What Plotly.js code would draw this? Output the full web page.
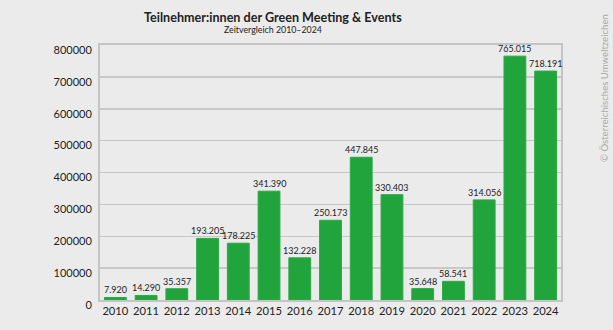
<!DOCTYPE html>
<html><head><meta charset="utf-8">
<script src="https://cdn.plot.ly/plotly-3.0.1.min.js"></script>
<style>body{margin:0;background:#ebebeb}#c{width:613px;height:330px}</style>
</head><body><div id="c"></div>
<script>
const years = ['2010','2011','2012','2013','2014','2015','2016','2017','2018','2019','2020','2021','2022','2023','2024'];
const participants = [7920,14290,35357,193205,178225,341390,132228,250173,447845,330403,35648,58541,314056,765015,718191];
const yTicks = [0,100000,200000,300000,400000,500000,600000,700000,800000];
const titleText = 'Teilnehmer:innen der Green Meeting &amp; Events';
const subtitleText = 'Zeitvergleich 2010–2024';
const creditText = '© Österreichisches Umweltzeichen';

function fmt(v){ return String(v).replace(/\B(?=(\d{3})+(?!\d))/g,'.'); }

const trace = {
  type:'bar', x:years, y:participants,
  marker:{color:'#22a43c', line:{color:'#2aaa44', width:1}},
  width:0.71, hoverinfo:'x+y'
};
const L=100, R=52, T=45, B=30, W=613, H=330;
const plotW=W-L-R, plotH=H-T-B;
const valueLabels = years.map((yr,i)=>({
  text:fmt(participants[i]), x:i, y:participants[i], xref:'x', yref:'y',
  showarrow:false, yanchor:'bottom', xanchor:'center', yshift:0,
  font:{family:'Lato, sans-serif', size:9, color:'#222'}
}));
const layout = {
  width:W, height:H,
  paper_bgcolor:'#ebebeb', plot_bgcolor:'#ebebeb',
  margin:{l:L, r:R, t:T, b:B},
  font:{family:'Lato, sans-serif', color:'#222'},
  showlegend:false,
  xaxis:{type:'category', categoryarray:years, range:[-0.5, years.length-0.5], tickangle:0, tickfont:{size:11.2, color:'#222'}, showline:true, linecolor:'#c4c4c4', linewidth:2, mirror:true, ticks:'', fixedrange:true},
  yaxis:{range:[0,800000], tickvals:yTicks, ticktext:yTicks.map(String), tickfont:{size:11, color:'#222'}, gridcolor:'#c8c8c8', gridwidth:1.5, showline:true, linecolor:'#c4c4c4', linewidth:2, mirror:true, zeroline:false, ticks:'', ticklabelshift:5, ticklabelstandoff:4, fixedrange:true},
  annotations:[
    {text:'<b>'+titleText+'</b>', xref:'paper', yref:'paper', x:(273-L)/plotW, y:1+(T-18)/plotH, showarrow:false, font:{size:12.6, color:'#222'}, xanchor:'center', yanchor:'middle'},
    {text:subtitleText, xref:'paper', yref:'paper', x:(273-L)/plotW, y:1+(T-30)/plotH, showarrow:false, font:{size:8.8, color:'#222'}, xanchor:'center', yanchor:'middle'},
    {text:creditText, xref:'paper', yref:'paper', x:(604-L)/plotW, y:1+(T-88)/plotH, showarrow:false, textangle:-90, font:{size:9.6, color:'#aaa'}, xanchor:'center', yanchor:'middle'}
  ].concat(valueLabels)
};
Plotly.newPlot('c',[trace],layout,{displayModeBar:false,staticPlot:true});
</script></body></html>
